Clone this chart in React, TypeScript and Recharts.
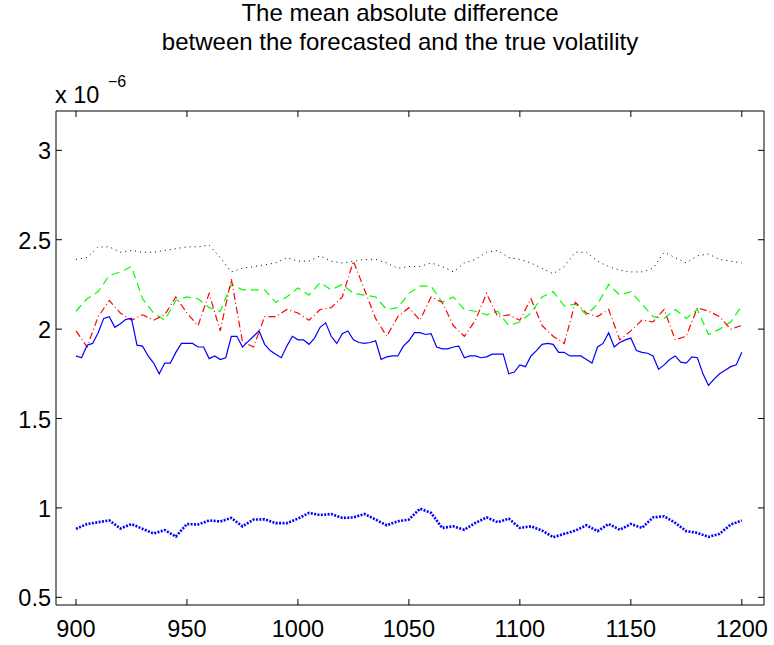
import React from "react";
import { LineChart, Line, XAxis, YAxis } from "recharts";

const FONT = '"Liberation Sans", Arial, Helvetica, sans-serif';

// sample positions (time index)
const XS = [
  900, 905, 910, 915, 920, 925, 930, 935, 940, 945, 950,
  955, 960, 965, 970, 975, 980, 985, 990, 995, 1000,
  1005, 1010, 1015, 1020, 1025, 1030, 1035, 1040, 1045, 1050,
  1055, 1060, 1065, 1070, 1075, 1080, 1085, 1090, 1095, 1100,
  1105, 1110, 1115, 1120, 1125, 1130, 1135, 1140, 1145, 1150,
  1155, 1160, 1165, 1170, 1175, 1180, 1185, 1190, 1195, 1200,
];

// finer positions for the solid blue line
const XS_FINE = [
  900, 902.5, 905, 907.5, 910, 912.5, 915, 917.5, 920, 922.5,
  925, 927.5, 930, 932.5, 935, 937.5, 940, 942.5, 945, 947.5,
  950, 952.5, 955, 957.5, 960, 962.5, 965, 967.5, 970, 972.5,
  975, 977.5, 980, 982.5, 985, 987.5, 990, 992.5, 995, 997.5,
  1000, 1002.5, 1005, 1007.5, 1010, 1012.5, 1015, 1017.5, 1020, 1022.5,
  1025, 1027.5, 1030, 1032.5, 1035, 1037.5, 1040, 1042.5, 1045, 1047.5,
  1050, 1052.5, 1055, 1057.5, 1060, 1062.5, 1065, 1067.5, 1070, 1072.5,
  1075, 1077.5, 1080, 1082.5, 1085, 1087.5, 1090, 1092.5, 1095, 1097.5,
  1100, 1102.5, 1105, 1107.5, 1110, 1112.5, 1115, 1117.5, 1120, 1122.5,
  1125, 1127.5, 1130, 1132.5, 1135, 1137.5, 1140, 1142.5, 1145, 1147.5,
  1150, 1152.5, 1155, 1157.5, 1160, 1162.5, 1165, 1167.5, 1170, 1172.5,
  1175, 1177.5, 1180, 1182.5, 1185, 1187.5, 1190, 1192.5, 1195, 1197.5,
  1200,
];

// values in units of 1e-6
const BLACK_DOTTED = [
  2.39, 2.40, 2.46, 2.46, 2.43, 2.44, 2.43, 2.43, 2.44, 2.45, 2.46,
  2.46, 2.47, 2.40, 2.32, 2.34, 2.35, 2.36, 2.37, 2.40, 2.38,
  2.38, 2.41, 2.38, 2.37, 2.38, 2.39, 2.39, 2.37, 2.34, 2.35,
  2.35, 2.37, 2.35, 2.32, 2.37, 2.39, 2.43, 2.44, 2.40, 2.39,
  2.37, 2.34, 2.31, 2.35, 2.43, 2.43, 2.38, 2.35, 2.33, 2.32,
  2.32, 2.34, 2.43, 2.40, 2.37, 2.41, 2.42, 2.39, 2.38, 2.37,
];

const GREEN_DASHED = [
  2.10, 2.17, 2.21, 2.30, 2.32, 2.35, 2.17, 2.09, 2.05, 2.16, 2.18,
  2.17, 2.12, 2.10, 2.25, 2.22, 2.22, 2.22, 2.15, 2.18, 2.23,
  2.19, 2.26, 2.22, 2.25, 2.20, 2.19, 2.18, 2.11, 2.12, 2.20,
  2.24, 2.24, 2.15, 2.18, 2.11, 2.10, 2.08, 2.10, 2.02, 2.04,
  2.09, 2.18, 2.21, 2.13, 2.14, 2.08, 2.14, 2.25, 2.19, 2.21,
  2.14, 2.07, 2.06, 2.11, 2.06, 2.11, 1.97, 2.00, 2.04, 2.13,
];

const RED_DASHDOT = [
  1.99, 1.90, 2.07, 2.16, 2.09, 2.05, 2.08, 2.05, 2.08, 2.18, 2.09,
  2.02, 2.20, 1.99, 2.28, 1.93, 1.90, 2.07, 2.07, 2.11, 2.09,
  2.05, 2.11, 2.12, 2.18, 2.38, 2.22, 2.06, 1.96, 2.07, 2.12,
  2.05, 2.18, 2.15, 2.02, 1.96, 2.05, 2.20, 2.07, 2.08, 2.05,
  2.17, 2.02, 1.96, 1.92, 2.15, 2.09, 2.07, 2.11, 1.94, 1.99,
  2.05, 2.04, 2.11, 1.94, 1.96, 2.12, 2.10, 2.07, 2.00, 2.02,
];

const BLUE_SOLID = [
  1.85, 1.84, 1.91, 1.92, 1.98, 2.06, 2.07, 2.01, 2.03, 2.055,
  2.06, 1.91, 1.905, 1.85, 1.81, 1.75, 1.81, 1.81, 1.87, 1.92,
  1.92, 1.92, 1.90, 1.90, 1.835, 1.85, 1.83, 1.84, 1.96, 1.96,
  1.90, 1.93, 1.96, 1.99, 1.915, 1.88, 1.86, 1.84, 1.905, 1.96,
  1.94, 1.94, 1.915, 1.95, 2.01, 2.035, 1.96, 1.92, 1.975, 1.99,
  1.94, 1.925, 1.92, 1.925, 1.935, 1.83, 1.845, 1.85, 1.85, 1.905,
  1.935, 1.98, 1.98, 1.97, 1.975, 1.90, 1.89, 1.89, 1.90, 1.905,
  1.84, 1.85, 1.85, 1.84, 1.845, 1.86, 1.86, 1.86, 1.75, 1.76,
  1.80, 1.79, 1.85, 1.88, 1.915, 1.92, 1.915, 1.87, 1.87, 1.85,
  1.85, 1.85, 1.83, 1.81, 1.90, 1.92, 1.98, 1.90, 1.925, 1.94,
  1.95, 1.88, 1.87, 1.865, 1.85, 1.775, 1.80, 1.83, 1.85, 1.815,
  1.81, 1.845, 1.84, 1.75, 1.685, 1.72, 1.75, 1.77, 1.79, 1.80,
  1.87,
];

const BLUE_DOTTED = [
  0.883, 0.91, 0.92, 0.93, 0.885, 0.91, 0.883, 0.857, 0.876, 0.84, 0.91,
  0.907, 0.93, 0.924, 0.944, 0.897, 0.935, 0.936, 0.915, 0.915, 0.94,
  0.972, 0.96, 0.966, 0.944, 0.947, 0.966, 0.935, 0.903, 0.925, 0.935,
  0.996, 0.972, 0.888, 0.897, 0.878, 0.916, 0.947, 0.92, 0.94, 0.888,
  0.897, 0.873, 0.836, 0.855, 0.873, 0.903, 0.87, 0.91, 0.878, 0.91,
  0.888, 0.947, 0.953, 0.916, 0.87, 0.86, 0.838, 0.855, 0.907, 0.93,
];

const X_TICKS = [900, 950, 1000, 1050, 1100, 1150, 1200];
const Y_TICKS = [0.5, 1, 1.5, 2, 2.5, 3];
const Y_LABELS = ["0.5", "1", "1.5", "2", "2.5", "3"];

const rows = XS.map((x, i) => ({
  x,
  black: BLACK_DOTTED[i],
  green: GREEN_DASHED[i],
  red: RED_DASHDOT[i],
  blueDot: BLUE_DOTTED[i],
}));

const fineRows = XS_FINE.map((x, i) => ({ x, blue: BLUE_SOLID[i] }));

const TICK_LEN = 6;

function BottomTick(p: any) {
  return (
    <g>
      <line x1={p.x} y1={p.y} x2={p.x} y2={p.y - TICK_LEN} stroke="#000" />
      <text x={p.x} y={p.y + 32} textAnchor="middle" fontFamily={FONT} fontSize={23.5} fill="#000">
        {p.payload.value}
      </text>
    </g>
  );
}

function LeftTick(p: any) {
  const idx = Y_TICKS.indexOf(p.payload.value);
  return (
    <g>
      <line x1={p.x} y1={p.y} x2={p.x + TICK_LEN} y2={p.y} stroke="#000" />
      <text x={p.x - 5} y={p.y + 9} textAnchor="end" fontFamily={FONT} fontSize={23.5} fill="#000">
        {idx >= 0 ? Y_LABELS[idx] : p.payload.value}
      </text>
    </g>
  );
}

function TopTick(p: any) {
  return <line x1={p.x} y1={p.y} x2={p.x} y2={p.y + TICK_LEN} stroke="#000" />;
}

function RightTick(p: any) {
  return <line x1={p.x} y1={p.y} x2={p.x - TICK_LEN} y2={p.y} stroke="#000" />;
}

export default function App() {
  return (
    <div style={{ position: "relative", width: 774, height: 645, background: "#fff" }}>
      <style>{"body { margin: 0; }"}</style>
      <LineChart width={774} height={645} data={rows} margin={{ top: 110, right: 9, left: 0, bottom: 0 }}>
        <XAxis
          dataKey="x"
          type="number"
          domain={[891, 1210]}
          allowDataOverflow
          ticks={X_TICKS}
          interval={0}
          height={40}
          tickSize={0}
          tickMargin={0}
          tickLine={false}
          axisLine={{ stroke: "#000" }}
          tick={(p: any) => <BottomTick {...p} />}
        />
        <XAxis
          xAxisId="top"
          orientation="top"
          dataKey="x"
          type="number"
          domain={[891, 1210]}
          allowDataOverflow
          ticks={X_TICKS}
          interval={0}
          height={1}
          tickSize={0}
          tickMargin={0}
          tickLine={false}
          axisLine={{ stroke: "#000" }}
          tick={(p: any) => <TopTick {...p} />}
        />
        <YAxis
          type="number"
          domain={[0.457, 3.22]}
          allowDataOverflow
          ticks={Y_TICKS}
          interval={0}
          width={56}
          tickSize={0}
          tickMargin={0}
          tickLine={false}
          axisLine={{ stroke: "#000" }}
          tick={(p: any) => <LeftTick {...p} />}
        />
        <YAxis
          yAxisId="right"
          orientation="right"
          type="number"
          domain={[0.457, 3.22]}
          allowDataOverflow
          ticks={Y_TICKS}
          interval={0}
          width={1}
          tickSize={0}
          tickMargin={0}
          tickLine={false}
          axisLine={{ stroke: "#000" }}
          tick={(p: any) => <RightTick {...p} />}
        />
        <Line dataKey="black" stroke="#000" strokeWidth={1} strokeDasharray="1 4" dot={false} activeDot={false} isAnimationActive={false} type="linear" />
        <Line dataKey="green" stroke="#00ff00" strokeWidth={1.2} strokeDasharray="8 5" dot={false} activeDot={false} isAnimationActive={false} type="linear" />
        <Line dataKey="red" stroke="#ff0000" strokeWidth={1.2} strokeDasharray="7 3 1 3" dot={false} activeDot={false} isAnimationActive={false} type="linear" />
        <Line data={fineRows} dataKey="blue" stroke="#0000ff" strokeWidth={1.2} dot={false} activeDot={false} isAnimationActive={false} type="linear" />
        <Line dataKey="blueDot" stroke="#0000ff" strokeWidth={2.6} strokeDasharray="2 1.4" dot={false} activeDot={false} isAnimationActive={false} type="linear" />
      </LineChart>
      <svg width={774} height={120} style={{ position: "absolute", left: 0, top: 0, pointerEvents: "none" }}>
        <text x={400} y={21} textAnchor="middle" fontFamily={FONT} fontSize={24} fill="#000">
          The mean absolute difference
        </text>
        <text x={400} y={50} textAnchor="middle" fontFamily={FONT} fontSize={24} fill="#000">
          between the forecasted and the true volatility
        </text>
        <text x={55} y={103} fontFamily={FONT} fontSize={23.5} fill="#000">x 10</text>
        <text x={108} y={87} fontFamily={FONT} fontSize={16} fill="#000">−6</text>
      </svg>
    </div>
  );
}
